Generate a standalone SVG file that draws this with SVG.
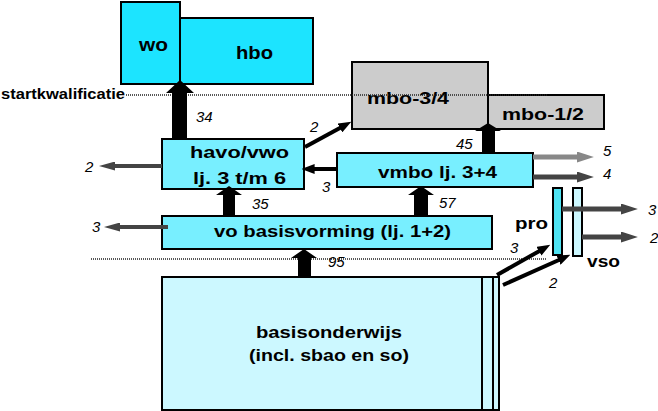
<svg xmlns="http://www.w3.org/2000/svg" width="658" height="411" viewBox="0 0 658 411">
<style>
.box{stroke:#000;stroke-width:2}
.c1{fill:#1ce4ff}
.c2{fill:#78efff}
.c3{fill:#ccf8ff}
.gr{fill:#cccccc}
.lbl{font-family:"Liberation Sans",Arial,sans-serif;font-weight:bold;fill:#000}
.num{font-family:"Liberation Sans",Arial,sans-serif;font-style:italic;font-size:15px;fill:#000}
.dot{stroke:#222;stroke-width:1.6;stroke-dasharray:1 1;fill:none}
.fat{fill:#000}
.bk{stroke:#000;stroke-width:4;fill:none}
.dk{stroke:#444;stroke-width:4;fill:none}
.dk5{stroke:#444;stroke-width:5;fill:none}
.lt5{stroke:#888;stroke-width:5;fill:none}
</style>
<defs>
<marker id="mdkS" viewBox="0 0 16 10" markerUnits="userSpaceOnUse" markerWidth="16" markerHeight="9" refX="2" refY="5" orient="auto" preserveAspectRatio="none"><path d="M0,0 L16,5 L0,10 z" fill="#444"/></marker>
<marker id="mdk" viewBox="0 0 16 10" markerUnits="userSpaceOnUse" markerWidth="17" markerHeight="11" refX="2" refY="5" orient="auto" preserveAspectRatio="none"><path d="M0,0 L16,5 L0,10 z" fill="#444"/></marker>
<marker id="mlt" viewBox="0 0 16 10" markerUnits="userSpaceOnUse" markerWidth="17" markerHeight="11" refX="2" refY="5" orient="auto" preserveAspectRatio="none"><path d="M0,0 L16,5 L0,10 z" fill="#888"/></marker>
<marker id="mbk" viewBox="0 0 16 10" markerUnits="userSpaceOnUse" markerWidth="13" markerHeight="10" refX="2" refY="5" orient="auto" preserveAspectRatio="none"><path d="M0,0 L16,5 L0,10 z" fill="#000"/></marker>
</defs>
<rect width="658" height="411" fill="#fff"/>

<g id="wo"><rect class="box c1" x="121" y="2" width="59" height="82"/><text class="lbl" x="139" y="51" font-size="19" textLength="29" lengthAdjust="spacingAndGlyphs">wo</text></g>
<g id="hbo"><rect class="box c1" x="180" y="18" width="133" height="66"/><text class="lbl" x="236" y="59" font-size="19" textLength="37" lengthAdjust="spacingAndGlyphs">hbo</text></g>
<g id="mbo34"><rect class="box gr" x="352" y="62" width="136" height="67"/><text class="lbl" x="367" y="104" font-size="17" textLength="82" lengthAdjust="spacingAndGlyphs">mbo-3/4</text></g>
<g id="mbo12"><rect class="box gr" x="488" y="95" width="116" height="34"/><text class="lbl" x="502" y="120" font-size="17" textLength="82" lengthAdjust="spacingAndGlyphs">mbo-1/2</text></g>
<g id="startkwalificatie"><text class="lbl" x="1" y="99" font-size="15" textLength="124" lengthAdjust="spacingAndGlyphs">startkwalificatie</text><line class="dot" x1="126" y1="95" x2="547" y2="95"/></g>
<g id="havo"><rect class="box c2" x="162" y="139" width="142" height="50"/><text class="lbl" x="190" y="158" font-size="17" textLength="99" lengthAdjust="spacingAndGlyphs">havo/vwo</text><text class="lbl" x="193" y="184" font-size="17" textLength="93" lengthAdjust="spacingAndGlyphs">lj. 3 t/m 6</text></g>
<g id="vmbo"><rect class="box c2" x="337" y="153" width="196" height="34"/><text class="lbl" x="378" y="178" font-size="17" textLength="119" lengthAdjust="spacingAndGlyphs">vmbo lj. 3+4</text></g>
<g id="vo"><rect class="box c2" x="162" y="216" width="330" height="33"/><text class="lbl" x="214" y="237" font-size="17" textLength="237" lengthAdjust="spacingAndGlyphs">vo basisvorming (lj. 1+2)</text></g>
<line id="grens" class="dot" x1="91" y1="259" x2="547" y2="259"/>
<g id="basis"><rect class="box c3" x="162" y="277" width="337" height="133"/><line class="box" x1="482" y1="277" x2="482" y2="410"/><line class="box" x1="493" y1="277" x2="493" y2="410"/><text class="lbl" x="256" y="338" font-size="17" textLength="146" lengthAdjust="spacingAndGlyphs">basisonderwijs</text><text class="lbl" x="249" y="361" font-size="17" textLength="160" lengthAdjust="spacingAndGlyphs">(incl. sbao en so)</text></g>
<g id="pro"><rect class="box" fill="#4ee3f2" x="553" y="188" width="9" height="67"/><text class="lbl" x="515" y="229" font-size="17" textLength="33" lengthAdjust="spacingAndGlyphs">pro</text></g>
<g id="vso"><rect class="box c3" x="573" y="188" width="9" height="68"/><text class="lbl" x="587" y="267" font-size="17" textLength="33" lengthAdjust="spacingAndGlyphs">vso</text></g>

<g id="connectors">
<polygon class="fat" points="172,139 172,93 166,93 180,80 194,93 187,93 187,139"/>
<polygon class="fat" points="482,153 482,131 475,131 488,123 501,131 495,131 495,153"/>
<polygon class="fat" points="223,216 223,195 216,195 229,186 242,195 235,195 235,216"/>
<polygon class="fat" points="414,216 414,195 408,195 421,186 434,195 428,195 428,216"/>
<polygon class="fat" points="298,278 298,258 291,258 304,249 317,258 311,258 311,278"/>
<line class="dk" x1="162" y1="166" x2="113" y2="166" marker-end="url(#mdkS)"/>
<line class="dk" x1="168" y1="227" x2="118" y2="227" marker-end="url(#mdkS)"/>
<line class="lt5" x1="533" y1="157" x2="579" y2="157" marker-end="url(#mlt)"/>
<line class="dk5" x1="533" y1="177" x2="579" y2="177" marker-end="url(#mdk)"/>
<line class="dk5" x1="562" y1="209" x2="623" y2="209" marker-end="url(#mdk)"/>
<line class="dk5" x1="582" y1="237" x2="623" y2="237" marker-end="url(#mdk)"/>
<line class="bk" x1="337" y1="169" x2="313" y2="169" marker-end="url(#mbk)"/>
<line class="bk" x1="305" y1="147" x2="341.3" y2="127.2" marker-end="url(#mbk)"/>
<line class="bk" x1="497" y1="275" x2="540.4" y2="250.4" marker-end="url(#mbk)"/>
<line class="bk" x1="503" y1="285" x2="560" y2="259.5" marker-end="url(#mbk)"/>
<text class="num" x="196" y="122">34</text>
<text class="num" x="310" y="132">2</text>
<text class="num" x="456" y="149">45</text>
<text class="num" x="603" y="156">5</text>
<text class="num" x="603" y="179">4</text>
<text class="num" x="322" y="192">3</text>
<text class="num" x="85" y="172">2</text>
<text class="num" x="92" y="232">3</text>
<text class="num" x="252" y="209">35</text>
<text class="num" x="439" y="208">57</text>
<text class="num" x="328" y="267">95</text>
<text class="num" x="510" y="253">3</text>
<text class="num" x="549" y="288">2</text>
<text class="num" x="648" y="215">3</text>
<text class="num" x="650" y="243">2</text>
</g>
</svg>
